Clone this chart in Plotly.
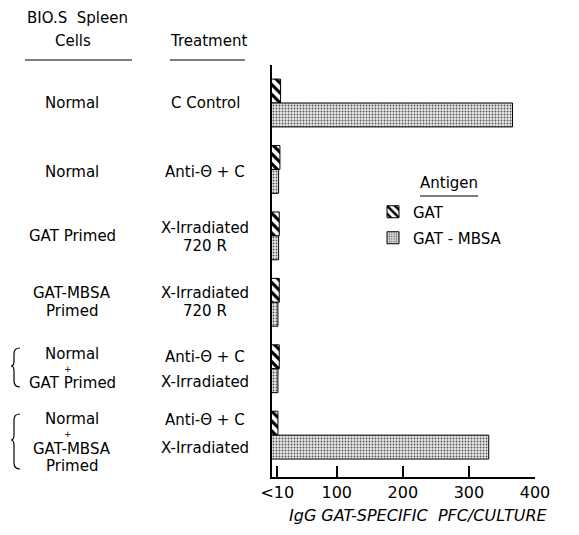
import plotly.graph_objects as go

# ---------------- data ----------------
cells = ["Normal", "Normal", "GAT Primed", "GAT-MBSA Primed",
         "Normal + GAT Primed", "Normal + GAT-MBSA Primed"]
treatments = ["C Control", "Anti-Θ + C", "X-Irradiated 720 R", "X-Irradiated 720 R",
              "Anti-Θ + C X-Irradiated", "Anti-Θ + C X-Irradiated"]
gat_values = [15, 14, 13, 13, 13, 11]
gat_mbsa_values = [366, 12, 12, 11, 11, 330]
tick_values = [10, 100, 200, 300, 400]
tick_labels = ["<10", "100", "200", "300", "400"]

# label lines per row: (text, vertical offset in px)
cell_lines = [
    [("Normal", 0)],
    [("Normal", 3)],
    [("GAT Primed", 0)],
    [("GAT-MBSA", -9), ("Primed", 9)],
    [("Normal", -15), ("+", 0), ("GAT Primed", 14)],
    [("Normal", -16), ("+", -1), ("GAT-MBSA", 14), ("Primed", 31)],
]
treat_lines = [
    [("C Control", 0)],
    [("Anti-Θ + C", 3)],
    [("X-Irradiated", -8), ("720 R", 10)],
    [("X-Irradiated", -9), ("720 R", 9)],
    [("Anti-Θ + C", -12), ("X-Irradiated", 13)],
    [("Anti-Θ + C", -15), ("X-Irradiated", 13)],
]

FONT = "DejaVu Sans"
OFF = 8                      # page body margin
W, H = 579 - OFF, 535 - OFF
L, T = 272 - OFF, 65 - OFF   # plot area left/top (figure px)
R = W - (535 - OFF)
B = H - (477 - OFF)
PW, PH = W - L - R, H - T - B


def xp(px):  # screen px -> paper
    return (px - OFF - L) / PW


def yp(py):
    return (T + PH - (py - OFF)) / PH


ypos = list(range(len(cells)))

fig = go.Figure()
fig.add_trace(go.Bar(
    y=ypos, x=gat_values, orientation="h", name="GAT", legend="legend",
    marker=dict(color="white", line=dict(color="black", width=1),
                pattern=dict(shape="\\", fgcolor="black", bgcolor="white",
                             size=7, solidity=0.45, fillmode="replace")),
))
fig.add_trace(go.Bar(
    y=ypos, x=gat_mbsa_values, orientation="h", name="GAT - MBSA", legend="legend2",
    marker=dict(color="#d8d8d8", line=dict(color="black", width=1),
                pattern=dict(shape=".", fgcolor="#555555", bgcolor="#e8e8e8",
                             size=3, solidity=0.3, fillmode="replace")),
))

annotations = []
for i, lines in enumerate(cell_lines):
    for text, off in lines:
        annotations.append(dict(
            x=xp(72 if text != "+" else 68), xref="paper", y=i, yref="y",
            yshift=-off, text=text, showarrow=False, xanchor="center", yanchor="middle",
            font=dict(family=FONT, size=15 if text != "+" else 9, color="black")))
for i, lines in enumerate(treat_lines):
    for text, off in lines:
        annotations.append(dict(
            x=xp(205), xref="paper", y=i, yref="y",
            yshift=-off, text=text, showarrow=False, xanchor="center", yanchor="middle",
            font=dict(family=FONT, size=15, color="black")))

# headers
for text, cx, cy in [("BIO.S  Spleen", 77, 18), ("Cells", 73, 41), ("Treatment", 208, 41)]:
    annotations.append(dict(x=xp(cx), y=yp(cy), xref="paper", yref="paper", text=text,
                            showarrow=False, xanchor="center", yanchor="middle",
                            font=dict(family=FONT, size=15, color="black")))
# legend heading
annotations.append(dict(x=xp(449), y=yp(183), xref="paper", yref="paper", text="Antigen",
                        showarrow=False, xanchor="center", yanchor="middle",
                        font=dict(family=FONT, size=15, color="black")))
# x-axis title
annotations.append(dict(x=xp(418), y=yp(515), xref="paper", yref="paper",
                        text="<i>IgG GAT-SPECIFIC  PFC/CULTURE</i>",
                        showarrow=False, xanchor="center", yanchor="middle",
                        font=dict(family=FONT, size=16, color="black")))

shapes = []
for x0, x1, yy in [(25, 132, 60), (170, 245, 60), (420, 478, 196)]:
    shapes.append(dict(type="line", xref="paper", yref="paper", x0=xp(x0), x1=xp(x1),
                       y0=yp(yy), y1=yp(yy), line=dict(color="black", width=1.2)))


def brace(x_left, x_right, top, mid, bot):
    pts = [
        f"M{xp(x_right)},{yp(top)}",
        f"Q{xp(x_left + 3)},{yp(top)} {xp(x_left + 3)},{yp(top + 6)}",
        f"L{xp(x_left + 3)},{yp(mid - 5)}",
        f"Q{xp(x_left + 3)},{yp(mid)} {xp(x_left)},{yp(mid)}",
        f"Q{xp(x_left + 3)},{yp(mid)} {xp(x_left + 3)},{yp(mid + 5)}",
        f"L{xp(x_left + 3)},{yp(bot - 6)}",
        f"Q{xp(x_left + 3)},{yp(bot)} {xp(x_right)},{yp(bot)}",
    ]
    return dict(type="path", xref="paper", yref="paper", path=" ".join(pts),
                line=dict(color="black", width=1.2))


shapes.append(brace(11, 20, 348, 366, 387))
shapes.append(brace(11, 20, 414, 440, 469))

fig.update_layout(
    width=W, height=H,
    margin=dict(l=L, r=R, t=T, b=B, pad=0),
    paper_bgcolor="white", plot_bgcolor="white",
    barmode="group", bargap=0.28, bargroupgap=0,
    font=dict(family=FONT, color="black"),
    xaxis=dict(range=[2, 400], tickvals=tick_values, ticktext=tick_labels,
               ticks="inside", ticklen=11, tickwidth=1.5, tickcolor="black",
               showline=True, linecolor="black", linewidth=1.5, showgrid=False,
               zeroline=False, tickfont=dict(family=FONT, size=16, color="black")),
    yaxis=dict(range=[5.63, -0.572], showticklabels=False, ticks="", showgrid=False,
               zeroline=False, showline=True, linecolor="black", linewidth=1.5),
    legend=dict(x=xp(373), y=yp(212), xanchor="left", yanchor="middle",
                bgcolor="rgba(0,0,0,0)", font=dict(family=FONT, size=15, color="black")),
    legend2=dict(x=xp(373), y=yp(238), xanchor="left", yanchor="middle",
                 bgcolor="rgba(0,0,0,0)", font=dict(family=FONT, size=15, color="black")),
    annotations=annotations,
    shapes=shapes,
    showlegend=True,
)

fig.write_html("out.html")
